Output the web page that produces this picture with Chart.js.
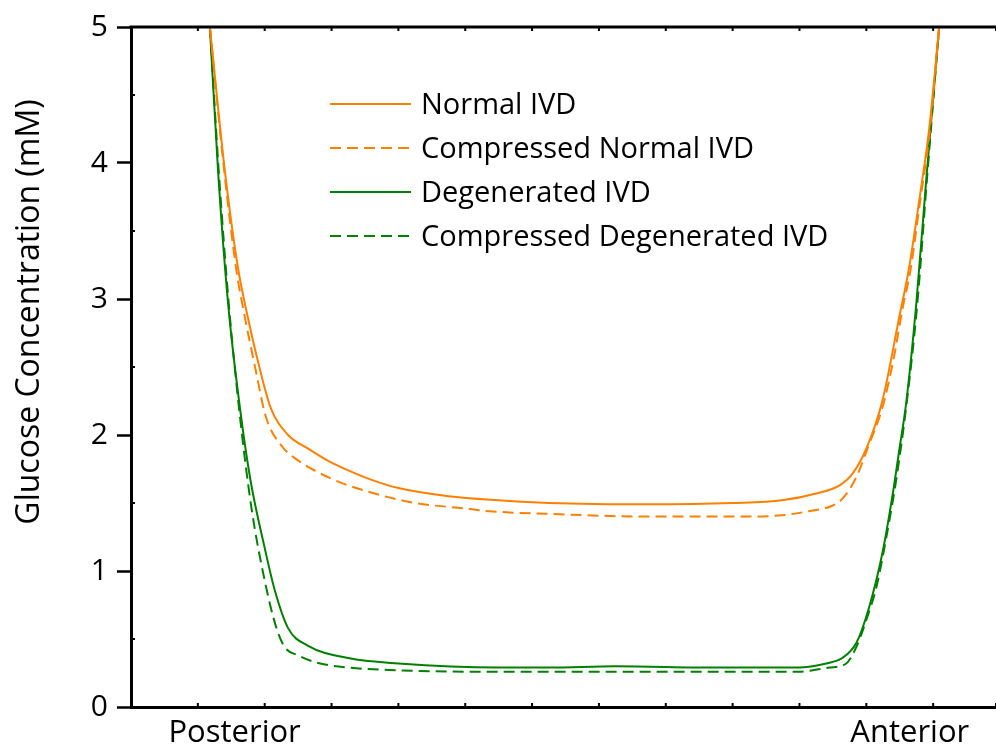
<!DOCTYPE html>
<html><head><meta charset="utf-8">
<script src="https://cdn.jsdelivr.net/npm/chart.js@4.4.1/dist/chart.umd.min.js"></script>
<style>html,body{margin:0;padding:0;background:#fff;overflow:hidden}</style>
</head><body>
<canvas id="c" width="996" height="748"></canvas>
<script>
// ---- data ----
const seriesNames = ['Normal IVD', 'Compressed Normal IVD', 'Degenerated IVD', 'Compressed Degenerated IVD'];
const normalX = [1.18,1.40,1.60,1.75,1.90,2.09,2.35,2.65,2.95,3.25,3.60,4.00,4.75,5.50,6.25,7.75,9.00,9.74,10.25,10.60,10.80,11.00,11.24,11.49,11.64,11.79,11.94,12.09];
const normalY = [5.00,3.96,3.23,2.86,2.54,2.20,2.00,1.90,1.81,1.74,1.67,1.61,1.55,1.52,1.50,1.49,1.50,1.52,1.57,1.63,1.72,1.90,2.25,2.86,3.23,3.72,4.25,5.00];
const compNormalX = [1.18,1.39,1.58,1.69,1.86,2.02,2.27,2.45,2.99,3.50,4.25,5.00,5.35,6.25,7.75,9.25,9.74,10.14,10.49,10.64,10.85,11.04,11.24,11.40,11.55,11.66,11.80,11.95,12.09];
const compNormalY = [5.00,3.96,3.20,2.90,2.49,2.13,1.91,1.83,1.68,1.59,1.50,1.46,1.44,1.42,1.40,1.40,1.41,1.44,1.48,1.53,1.69,1.93,2.20,2.54,2.95,3.21,3.70,4.24,5.00];
const degX = [1.18,1.30,1.45,1.64,1.79,2.00,2.15,2.35,2.65,3.25,4.00,5.50,6.25,7.25,8.75,9.99,10.40,10.64,10.85,11.04,11.24,11.39,11.49,11.60,11.75,11.90,12.09];
const degY = [5.00,3.96,2.98,2.16,1.66,1.17,0.86,0.58,0.45,0.36,0.32,0.29,0.29,0.30,0.29,0.29,0.32,0.36,0.47,0.73,1.13,1.55,1.88,2.25,2.98,3.90,5.00];
const compDegX = [1.18,1.31,1.46,1.62,1.80,2.00,2.17,2.30,2.50,2.75,3.25,4.00,5.00,6.25,7.75,9.25,9.99,10.45,10.70,10.85,11.00,11.15,11.30,11.45,11.60,11.76,11.91,12.09];
const compDegY = [5.00,3.96,2.98,2.18,1.47,0.93,0.59,0.44,0.38,0.33,0.29,0.27,0.26,0.26,0.26,0.26,0.26,0.29,0.32,0.44,0.64,0.88,1.25,1.68,2.22,2.95,3.90,5.00];
const yTickValues = [0, 1, 2, 3, 4, 5];
const xEndLabels = ['Posterior', 'Anterior'];
const xEndLabelValues = [1.55, 11.65];
const yTitle = 'Glucose Concentration (mM)';

// ---- styles ----
const ORANGE = '#ff8000', GREEN = '#008000';
const FONT = "'Open Sans', sans-serif";
const DASH = [11, 6];

function pts(xs, ys) { return xs.map((x, i) => ({ x: x, y: ys[i] })); }

const datasets = [
  { label: seriesNames[0], data: pts(normalX, normalY), borderColor: ORANGE, borderDash: [] },
  { label: seriesNames[1], data: pts(compNormalX, compNormalY), borderColor: ORANGE, borderDash: DASH },
  { label: seriesNames[2], data: pts(degX, degY), borderColor: GREEN, borderDash: [] },
  { label: seriesNames[3], data: pts(compDegX, compDegY), borderColor: GREEN, borderDash: DASH }
].map(d => Object.assign(d, { borderWidth: 2, pointRadius: 0, fill: false, cubicInterpolationMode: 'monotone' }));

const decor = {
  id: 'decor',
  afterDraw(chart) {
    const { ctx, chartArea: a, scales: { x, y } } = chart;
    ctx.save();
    ctx.strokeStyle = '#000';
    // top frame line
    ctx.lineWidth = 3;
    ctx.beginPath(); ctx.moveTo(a.left - 1.5, a.top); ctx.lineTo(a.right, a.top); ctx.stroke();
    // small inward ticks
    ctx.lineWidth = 2;
    ctx.beginPath();
    for (let v = 0.5; v < 5; v += 1) {
      const py = y.getPixelForValue(v);
      ctx.moveTo(a.left, py); ctx.lineTo(a.left + 4, py);
    }
    x.ticks.forEach(t => {
      if (t.value <= 0) return;
      const px = x.getPixelForValue(t.value);
      ctx.moveTo(px, a.bottom); ctx.lineTo(px, a.bottom - 4);
      ctx.moveTo(px, a.top); ctx.lineTo(px, a.top + 4);
    });
    ctx.stroke();
    // y title
    ctx.fillStyle = '#000';
    ctx.font = '32px ' + FONT;
    ctx.textAlign = 'center';
    ctx.textBaseline = 'middle';
    ctx.save();
    ctx.translate(30, 312);
    ctx.rotate(-Math.PI / 2);
    ctx.fillText(yTitle, 0, 0);
    ctx.restore();
    // end labels
    ctx.font = '31px ' + FONT;
    ctx.textBaseline = 'alphabetic';
    xEndLabels.forEach((s, i) => ctx.fillText(s, x.getPixelForValue(xEndLabelValues[i]), 742));
    // legend
    ctx.font = '29px ' + FONT;
    ctx.textAlign = 'left';
    chart.data.datasets.forEach((d, i) => {
      const ly = 104 + 44 * i;
      ctx.strokeStyle = d.borderColor;
      ctx.lineWidth = 2;
      ctx.setLineDash(d.borderDash || []);
      ctx.beginPath(); ctx.moveTo(330, ly); ctx.lineTo(411, ly); ctx.stroke();
      ctx.setLineDash([]);
      ctx.fillStyle = '#000';
      ctx.fillText(d.label, 421, ly + 10);
    });
    ctx.restore();
  }
};

new Chart(document.getElementById('c'), {
  type: 'line',
  data: { datasets: datasets },
  options: {
    responsive: false,
    devicePixelRatio: 1,
    animation: false,
    layout: { padding: { top: 25, right: 0, left: 0, bottom: 0 } },
    plugins: { legend: { display: false }, tooltip: { enabled: false } },
    scales: {
      x: {
        type: 'linear', min: 0, max: 12.94,
        afterFit(s) { s.height = 41; },
        ticks: { display: false, stepSize: 1 },
        grid: { display: true, drawOnChartArea: false, drawTicks: false },
        border: { display: true, width: 3, color: '#000' }
      },
      y: {
        min: 0, max: 5,
        afterFit(s) { s.width = 131; },
        afterBuildTicks(s) { s.ticks = yTickValues.map(v => ({ value: v })); },
        ticks: { color: '#000', font: { family: FONT, size: 30 }, padding: 9 },
        grid: { display: true, drawOnChartArea: false, drawTicks: true, tickLength: 14, tickWidth: 2.5, tickColor: '#000' },
        border: { display: true, width: 3, color: '#000' }
      }
    }
  },
  plugins: [decor]
});
</script>
</body></html>
